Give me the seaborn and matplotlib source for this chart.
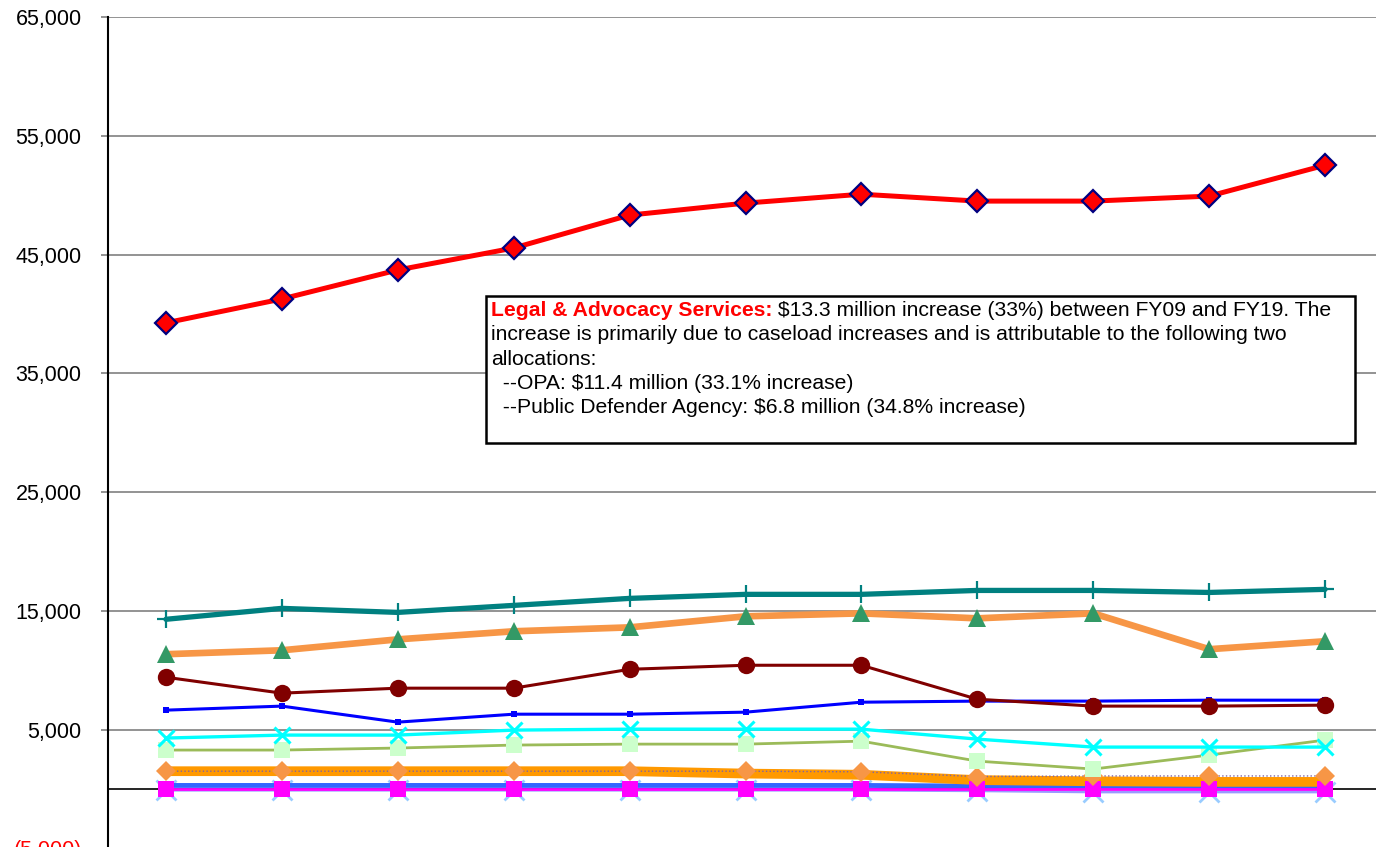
import numpy as np
import pandas as pd
import matplotlib
matplotlib.use("Agg")
import matplotlib.pyplot as plt
import seaborn as sns
from matplotlib.patches import Rectangle

# ---------------- data ----------------
years = ["FY09", "FY10", "FY11", "FY12", "FY13", "FY14", "FY15", "FY16", "FY17", "FY18", "FY19"]

legal_advocacy = [39250, 41260, 43700, 45550, 48320, 49330, 50080, 49500, 49500, 49920, 52520]
teal_series    = [14290, 15210, 14870, 15460, 16050, 16390, 16390, 16720, 16720, 16550, 16810]
orange_series  = [11350, 11680, 12600, 13280, 13610, 14540, 14790, 14370, 14790, 11770, 12440]
darkred_series = [9410, 8070, 8490, 8490, 10080, 10420, 10420, 7560, 6980, 6980, 7060]
blue_series    = [6640, 6980, 5630, 6300, 6300, 6470, 7310, 7400, 7400, 7480, 7480]
cyan_series    = [4290, 4540, 4540, 4960, 5040, 5040, 5040, 4200, 3530, 3530, 3530]
olive_series   = [3280, 3280, 3450, 3700, 3780, 3780, 4030, 2350, 1680, 2860, 4120]
dkorange_series= [1500, 1500, 1500, 1500, 1500, 1300, 1200, 750, 650, 600, 600]
diamond_series = [1500, 1500, 1500, 1500, 1500, 1500, 1450, 1050, 1100, 1100, 1100]
royal_series   = [300, 300, 300, 300, 300, 300, 300, 250, 150, 100, 100]
magenta_series = [0, 0, 0, 0, 0, 0, 0, 0, 0, 0, 0]
ltblue_series  = [-100, -100, -100, -100, -100, -100, -100, -150, -250, -250, -250]

ytick_values = [-5000, 5000, 15000, 25000, 35000, 45000, 55000, 65000]

note_title = "Legal & Advocacy Services:"
note_first = " $13.3 million increase (33%) between FY09 and FY19. The"
note_lines = [
    "increase is primarily due to caseload increases and is attributable to the following two",
    "allocations:",
    "  --OPA: $11.4 million (33.1% increase)",
    "  --Public Defender Agency: $6.8 million (34.8% increase)",
]

# ---------------- figure ----------------
W, H = 1376, 847
sns.set_theme(style="white")
plt.rcParams["font.family"] = ["Liberation Sans", "DejaVu Sans"]

fig = plt.figure(figsize=(W / 100, H / 100), dpi=100)
ax = fig.add_axes([108 / W, (H - 848.4) / H, 1275 / W, (848.4 - 17) / H])

x = np.arange(len(years))

series_specs = [
    # data, line color, lw, marker, msize, mfc, mec, mew, ls, zorder
    (ltblue_series,  "#9999FF", 2.0, "x", 15, "#99CCFF", "#99CCFF", 2.0, "-", 3),
    (royal_series,   "#3366FF", 3.5, None, 0, None, None, 0, "-", 4),
    (magenta_series, "#FF00FF", 2.0, "s", 12, "#FF00FF", "#FF00FF", 0, "-", 5),
    (dkorange_series,"#FF9900", 7.0, None, 0, None, None, 0, "-", 4),
    (diamond_series, "#8064A2", 1.0, "D", 10, "#F79646", "#F79646", 0, ":", 5),
    (olive_series,   "#9BBB59", 2.0, "s", 12, "#CCFFCC", "#CCFFCC", 0, "-", 5),
    (cyan_series,    "#00FFFF", 2.4, "x", 12, "#00FFFF", "#00FFFF", 2.2, "-", 5),
    (blue_series,    "#0000FF", 2.2, "s", 5, "#0000FF", "#0000FF", 0, "-", 5),
    (darkred_series, "#800000", 2.2, "o", 12.5, "#800000", "#800000", 0, "-", 5),
    (orange_series,  "#F79646", 4.8, "^", 13, "#339966", "#339966", 0, "-", 5),
    (teal_series,    "#008080", 3.8, "+", 13, "#008080", "#008080", 1.6, "-", 6),
    (legal_advocacy, "#FF0000", 3.6, "D", 11.5, "#FF0000", "#000080", 1.6, "-", 7),
]

for vals, col, lw, mk, ms, mfc, mec, mew, ls, z in series_specs:
    kw = dict(color=col, linewidth=lw, linestyle=ls, zorder=z)
    if mk is not None:
        kw.update(marker=mk, markersize=ms, markerfacecolor=mfc,
                  markeredgecolor=mec, markeredgewidth=mew)
    sns.lineplot(x=x, y=vals, ax=ax, legend=False, **kw)

ax.set_xlim(-0.5, len(years) - 0.5)
ax.set_ylim(-5000, 65000)
ax.set_xticks([])
ax.set_yticks(ytick_values)
labels = []
for v in ytick_values:
    labels.append(f"({abs(v):,})" if v < 0 else f"{v:,}")
ax.set_yticklabels(labels, fontsize=15.5)
for lab, v in zip(ax.get_yticklabels(), ytick_values):
    lab.set_color("#FF0000" if v < 0 else "#000000")
ax.tick_params(axis="y", which="both", left=True, length=5, width=1.2,
               color="#808080", pad=14)
ax.grid(axis="y", color="#808080", linewidth=1.2)
ax.set_axisbelow(True)
ax.axhline(0, color="black", linewidth=1.2, zorder=2)
for s in ["top", "right", "bottom"]:
    ax.spines[s].set_visible(False)
ax.spines["left"].set_color("black")
ax.spines["left"].set_linewidth(1.5)
ax.set_xlabel("")
ax.set_ylabel("")

# ---------------- annotation box ----------------
fs = 15.2
box = Rectangle((486 / W, 1 - 443 / H), (1355 - 486) / W, (443 - 296) / H,
                transform=fig.transFigure, facecolor="white", edgecolor="black",
                linewidth=1.8, zorder=10)
fig.patches.append(box)

x0 = 491 / W
t1 = fig.text(x0, 1 - 311 / H, note_title, color="#FF0000", fontweight="bold",
              fontsize=fs, va="center", ha="left", zorder=11)
fig.canvas.draw()
bb = t1.get_window_extent()
fig.text(bb.x1 / W, 1 - 311 / H, note_first, color="black", fontsize=fs,
         va="center", ha="left", zorder=11)
for i, line in enumerate(note_lines):
    fig.text(x0, 1 - (335 + 24 * i) / H, line, color="black", fontsize=fs,
             va="center", ha="left", zorder=11)

fig.savefig("out.png", dpi=100)
